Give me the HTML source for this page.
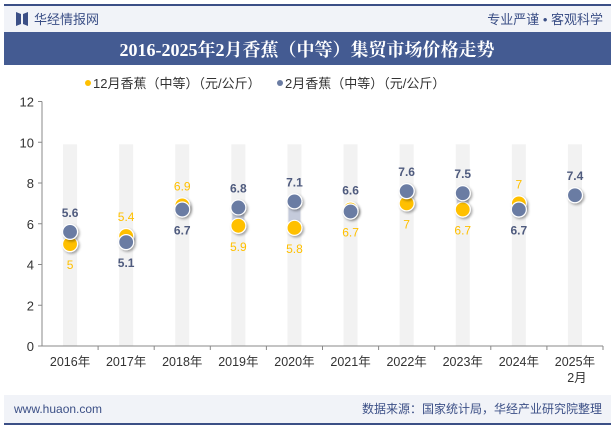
<!DOCTYPE html>
<html><head><meta charset="utf-8"><style>
body{margin:0;width:615px;height:427px;overflow:hidden;background:#fff;font-family:"Liberation Sans","Noto Sans CJK SC",sans-serif}
</style></head><body>
<svg width="615" height="427" xmlns="http://www.w3.org/2000/svg">
<defs><filter id="sh" x="-50%" y="-50%" width="200%" height="200%"><feDropShadow dx="1.5" dy="1.5" stdDeviation="1.2" flood-color="#000" flood-opacity="0.35"/></filter></defs>
<rect x="4" y="4" width="607" height="2" fill="#3b4f86"/>
<rect x="4" y="6" width="607" height="26" fill="#f1f3f8"/>
<path d="M16 12 L21 14 L21 24 L16 26 Z M28 12 L23 14 L23 24 L28 26 Z" fill="#3b4f86"/>
<text x="34" y="24" font-size="13" fill="#3b4f86">华经情报网</text>
<text x="603" y="24" font-size="13" fill="#3b4f86" text-anchor="end">专业严谨 • 客观科学</text>
<rect x="4" y="32" width="607" height="33" fill="#445b92"/>
<text x="307" y="56" font-size="18" font-weight="bold" fill="#fff" text-anchor="middle" font-family="'Liberation Serif','Noto Serif CJK SC',serif">2016-2025年2月香蕉（中等）集贸市场价格走势</text>
<circle cx="88" cy="83" r="3" fill="#ffc000"/>
<text x="93" y="88" font-size="13" fill="#333">12月香蕉（中等）（元/公斤）</text>
<circle cx="280" cy="83" r="3" fill="#6a7ca3"/>
<text x="285" y="88" font-size="13" fill="#333">2月香蕉（中等）（元/公斤）</text>
<g id="plot"></g>
<rect x="4" y="395" width="607" height="28" fill="#f1f3f8"/>
<rect x="4" y="423" width="607" height="2" fill="#3b4f86"/>
<text x="14" y="413" font-size="12" fill="#3b4f86">www.huaon.com</text>
<text x="602" y="413" font-size="12" fill="#3b4f86" text-anchor="end">数据来源：国家统计局，华经产业研究院整理</text>
</svg>
<script>
const categories=["2016年","2017年","2018年","2019年","2020年","2021年","2022年","2023年","2024年","2025年"];
const decValues=[5,5.4,6.9,5.9,5.8,6.7,7,6.7,7,null];
const febValues=[5.6,5.1,6.7,6.8,7.1,6.6,7.6,7.5,6.7,7.4];
const yTicks=[0,2,4,6,8,10,12];
const decLabelAbove=[false,true,true,false,false,false,false,false,true,false];
const NS="http://www.w3.org/2000/svg";
const g=document.getElementById('plot');
const x0=42,x1=603,y0=346,yTop=101.5;
const xs=i=>x0+(x1-x0)/categories.length*(i+0.5);
const ys=v=>y0-(y0-yTop)*v/12;
function mk(t,a,txt){const e=document.createElementNS(NS,t);for(const k in a)e.setAttribute(k,a[k]);if(txt!=null)e.textContent=txt;g.appendChild(e);return e;}
categories.forEach((c,i)=>{
 const b=mk('rect',{x:xs(i)-7,y:ys(9.9),width:14,height:y0-ys(9.9),fill:'#f2f2f2'});
 
 
});
mk('line',{x1:x0,y1:yTop,x2:x0,y2:y0,stroke:'#888'});
mk('line',{x1:x0,y1:y0,x2:x1,y2:y0,stroke:'#888'});
yTicks.forEach(v=>{
 mk('line',{x1:x0-4,y1:ys(v),x2:x0,y2:ys(v),stroke:'#888'});
 const t=mk('text',{x:x0-8,y:ys(v)+5,'font-size':13,fill:'#333','text-anchor':'end'},v);
 
 
});
categories.forEach((c,i)=>{
 mk('line',{x1:x0+(x1-x0)/10*(i+1),y1:y0,x2:x0+(x1-x0)/10*(i+1),y2:y0+4,stroke:'#888'});
 const t=mk('text',{x:xs(i),y:366,'font-size':12.5,fill:'#333','text-anchor':'middle'},c);
 
 
 if(i===categories.length-1){const t2=mk('text',{x:xs(i)+2,y:382,'font-size':12.5,fill:'#333','text-anchor':'middle'},'2月');
 
 }
});
categories.forEach((c,i)=>{
 const d=decValues[i],f=febValues[i];
 if(d!=null&&f!=null){const r=mk('rect',{x:xs(i)-6,y:Math.min(ys(d),ys(f)),width:12,height:Math.abs(ys(d)-ys(f)),fill:'#c5cbdb'});
 
 }
 if(d!=null){const p=mk('circle',{cx:xs(i),cy:ys(d),r:7.5,fill:'#ffc000',stroke:'#fff','stroke-width':1.2,filter:'url(#sh)'});
  
  }
 const p2=mk('circle',{cx:xs(i),cy:ys(f),r:7.5,fill:'#6a7ca3',stroke:'#fff','stroke-width':1.2,filter:'url(#sh)'});
 
 
 const da=decLabelAbove[i];
 if(d!=null){const t=mk('text',{x:xs(i),y:da?Math.min(ys(d),ys(f))-15:Math.max(ys(d),ys(f))+25,'font-size':12,fill:'#ffc000','text-anchor':'middle'},d);
  
  }
 const fy=(d==null||!da)?Math.min(ys(f),d==null?ys(f):ys(d))-15:Math.max(ys(d),ys(f))+25;
 const t2=mk('text',{x:xs(i),y:fy,'font-size':12,'font-weight':'bold',fill:'#4f5b7e','text-anchor':'middle'},f);
 
 
});
</script>
</body></html>
